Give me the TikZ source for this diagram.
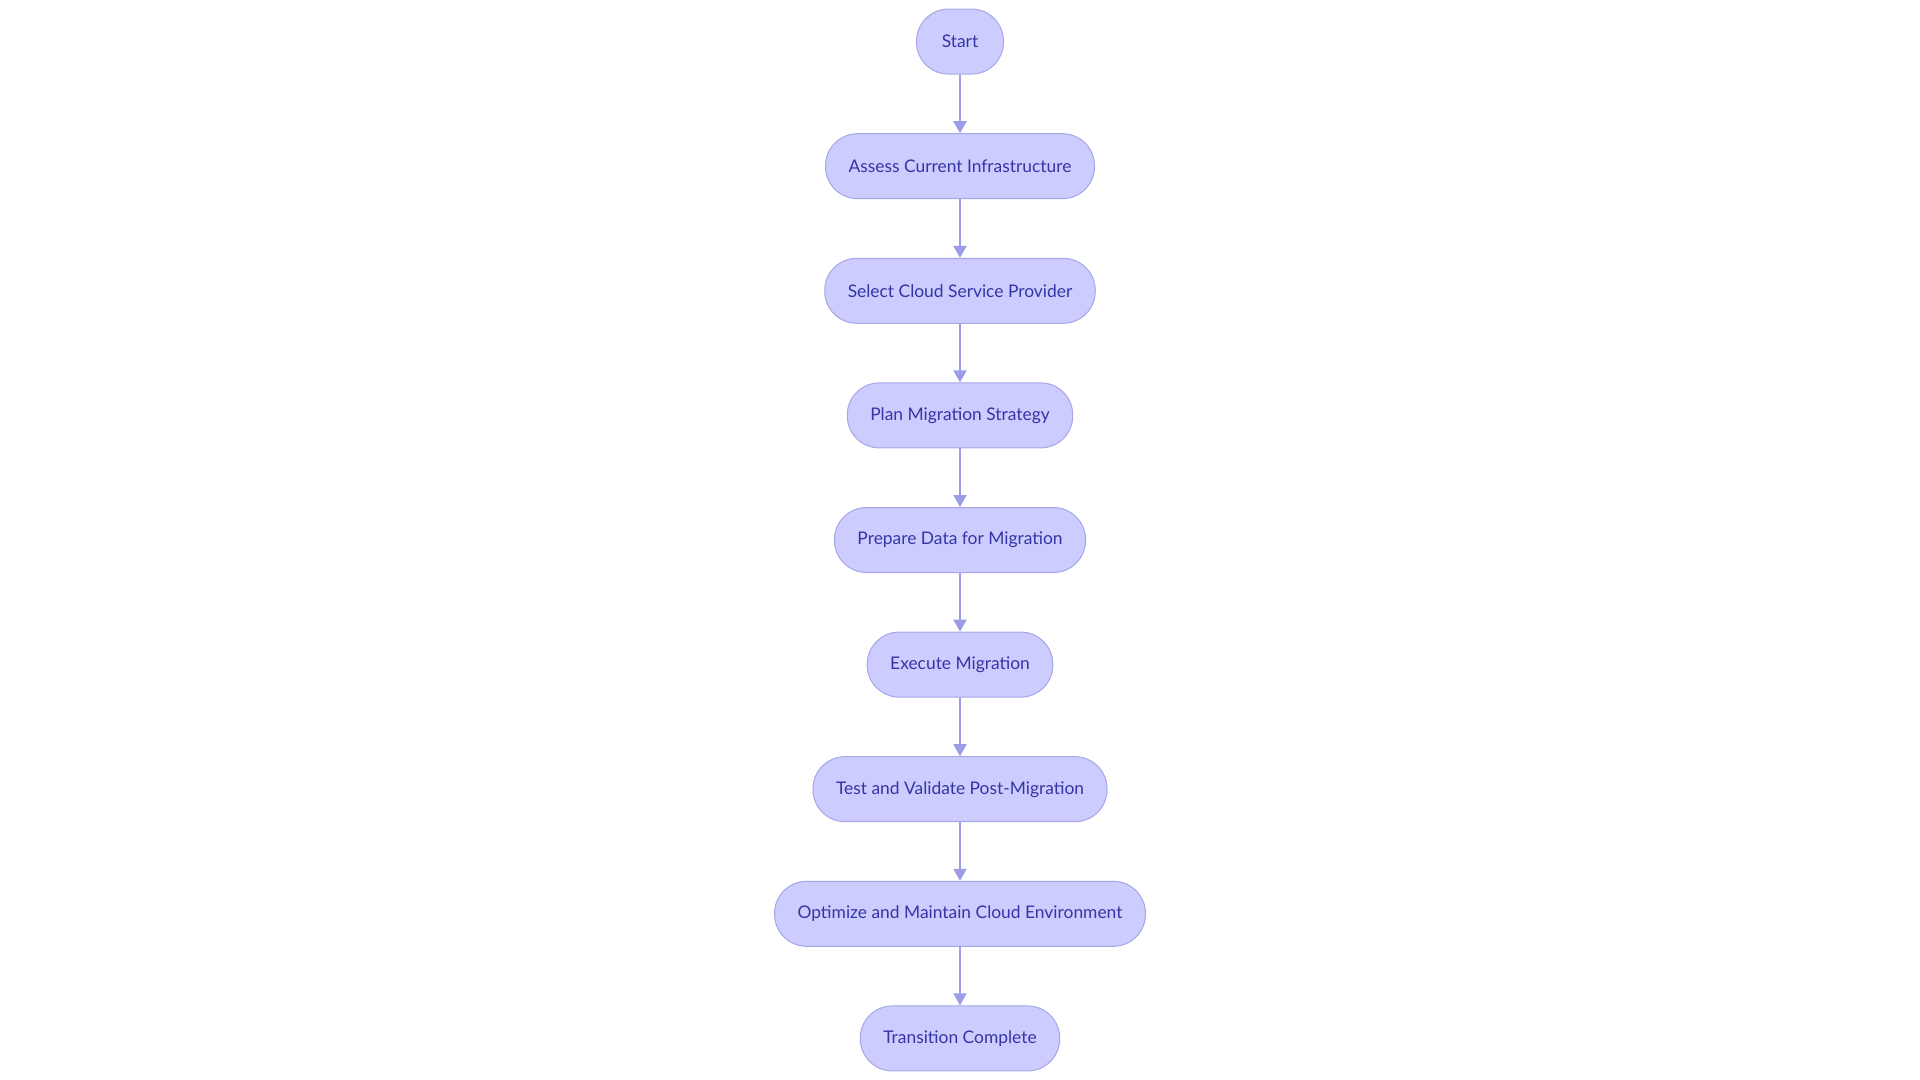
\documentclass[tikz,border=0pt]{standalone}
\usepackage{fontspec}
\setmainfont{Lato}
\usetikzlibrary{positioning,arrows.meta}
\definecolor{stepfill}{HTML}{CCCCFF}
\definecolor{stepline}{HTML}{A6A6E6}
\definecolor{steptext}{HTML}{3535A5}
\definecolor{flowline}{HTML}{9C9CE8}

\begin{document}
\begin{tikzpicture}[>={Triangle[length=6pt,width=6.5pt]},
	stepbox/.style={draw=stepline, line width=0.5pt, fill=stepfill, text=steptext,
		rounded corners=16pt, minimum height=32.5pt, inner xsep=11.5pt,
		font=\fontsize{8.7pt}{10.4pt}\selectfont},
	flow/.style={->, draw=flowline, line width=1pt},
	node distance=29.3pt]
			%\draw [help lines] (0,0) grid (15,5);
			\useasboundingbox (0,0) rectangle (960pt,-540pt);
			\node [stepbox, minimum width=43.5pt] (start) at (480pt,-20.8pt) {Start};
			\node [stepbox, below=of start] (assess) {Assess Current Infrastructure};
			\node [stepbox, below=of assess] (select) {Select Cloud Service Provider};
			\node [stepbox, below=of select] (plan) {Plan Migration Strategy};
			\node [stepbox, below=of plan] (prepare) {Prepare Data for Migration};
			\node [stepbox, below=of prepare] (execute) {Execute Migration};
			\node [stepbox, below=of execute] (test) {Test and Validate Post-Migration};
			\node [stepbox, below=of test] (optimize) {Optimize and Maintain Cloud Environment};
			\node [stepbox, below=of optimize] (done) {Transition Complete};
			
			\draw [flow] (start) -- (assess);
			\draw [flow] (assess) -- (select);
			\draw [flow] (select) -- (plan);
			\draw [flow] (plan) -- (prepare);
			\draw [flow] (prepare) -- (execute);
			\draw [flow] (execute) -- (test);
			\draw [flow] (test) -- (optimize);
			\draw [flow] (optimize) -- (done);
	\end{tikzpicture}
\end{document}
